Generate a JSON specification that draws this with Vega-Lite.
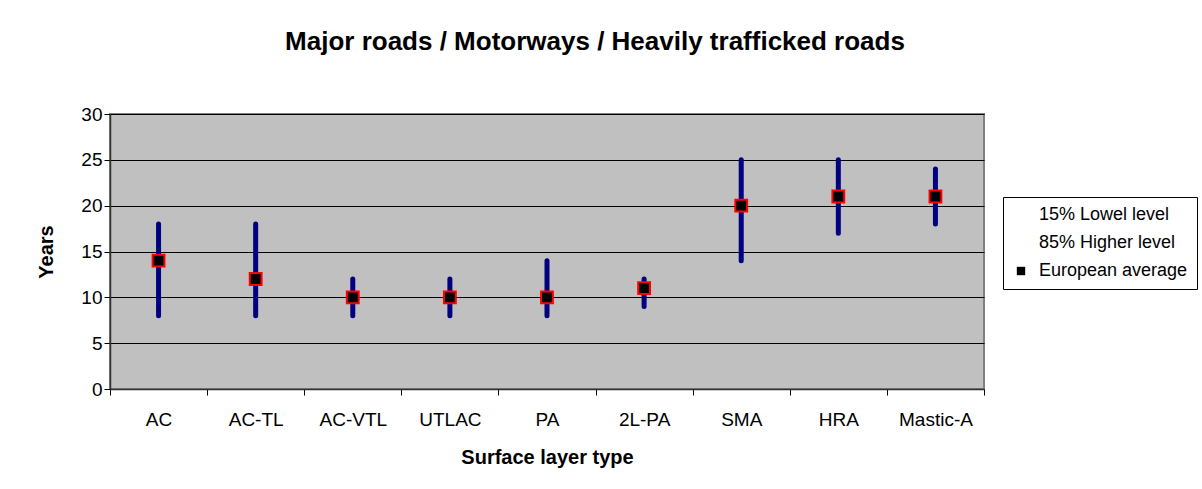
{
  "$schema": "https://vega.github.io/schema/vega-lite/v6.json",
  "width": 874,
  "height": 275,
  "autosize": {"type": "none"},
  "padding": {"left": 110, "top": 114, "right": 218, "bottom": 100},
  "background": "white",
  "title": {
    "text": "Major roads / Motorways / Heavily trafficked roads",
    "font": "Liberation Sans",
    "fontSize": 26,
    "fontWeight": "bold",
    "color": "black",
    "anchor": "middle",
    "offset": 50,
    "dx": 48
  },
  "config": {
    "font": "Liberation Sans",
    "view": {"fill": "#C0C0C0", "stroke": "#808080", "strokeWidth": 2},
    "axis": {
      "labelFont": "Liberation Sans",
      "labelFontSize": 19,
      "labelColor": "black",
      "titleFont": "Liberation Sans",
      "titleFontSize": 20,
      "titleFontWeight": "bold",
      "titleColor": "black",
      "domainColor": "#333333",
      "tickColor": "black"
    }
  },
  "data": {
    "values": [
      {"type": "AC", "low": 8, "high": 18, "avg": 14},
      {"type": "AC-TL", "low": 8, "high": 18, "avg": 12},
      {"type": "AC-VTL", "low": 8, "high": 12, "avg": 10},
      {"type": "UTLAC", "low": 8, "high": 12, "avg": 10},
      {"type": "PA", "low": 8, "high": 14, "avg": 10},
      {"type": "2L-PA", "low": 9, "high": 12, "avg": 11},
      {"type": "SMA", "low": 14, "high": 25, "avg": 20},
      {"type": "HRA", "low": 17, "high": 25, "avg": 21},
      {"type": "Mastic-A", "low": 18, "high": 24, "avg": 21}
    ]
  },
  "encoding": {
    "x": {
      "field": "type",
      "type": "nominal",
      "sort": null,
      "scale": {"paddingInner": 0, "paddingOuter": 0},
      "axis": {
        "title": "Surface layer type",
        "labelAngle": 0,
        "tickBand": "extent",
        "tickSize": 6,
        "labelPadding": 15,
        "titlePadding": 18,
        "domainWidth": 1.5
      }
    }
  },
  "layer": [
    {
      "mark": {"type": "rule", "stroke": "#000080", "strokeWidth": 5, "strokeCap": "round"},
      "encoding": {
        "y": {
          "field": "low",
          "type": "quantitative",
          "scale": {"domain": [0, 30]},
          "axis": {
            "title": "Years",
            "values": [0, 5, 10, 15, 20, 25, 30],
            "grid": true,
            "gridColor": "black",
            "gridWidth": 1,
            "tickSize": 6,
            "labelPadding": 2,
            "titlePadding": 24,
            "domainWidth": 1.5
          }
        },
        "y2": {"field": "high"}
      }
    },
    {
      "mark": {"type": "point", "filled": true, "fill": "black", "stroke": "#FF0000", "strokeWidth": 2, "size": 140, "opacity": 1},
      "encoding": {
        "y": {"field": "avg", "type": "quantitative"},
        "shape": {
          "datum": "European average",
          "type": "nominal",
          "scale": {
            "domain": ["15% Lowel level", "85% Higher level", "European average"],
            "range": ["M0,0", "M0,0", "square"]
          },
          "legend": {
            "title": null,
            "orient": "none",
            "legendX": 893,
            "legendY": 83,
            "strokeColor": "black",
            "fillColor": "white",
            "padding": 9,
            "labelFont": "Liberation Sans",
            "labelFontSize": 18,
            "labelColor": "black",
            "rowPadding": 10,
            "symbolSize": 70,
            "symbolFillColor": "black",
            "symbolStrokeColor": "#FF0000",
            "symbolStrokeWidth": 2,
            "symbolOpacity": 1,
            "labelOffset": 9
          }
        }
      }
    }
  ]
}
